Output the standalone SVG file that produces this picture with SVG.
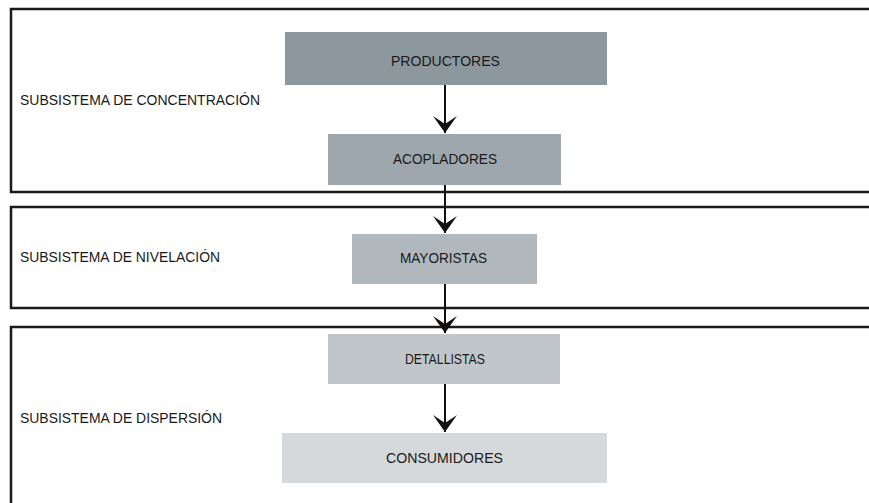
<svg xmlns="http://www.w3.org/2000/svg" width="869" height="503" viewBox="0 0 869 503">
<style>
.frame{fill:none;stroke:#1a1a1a;stroke-width:2.5}
.lbl{font-family:"Liberation Sans",Arial,sans-serif;font-size:14.5px;fill:#1a1a1a}
.ntx{font-family:"Liberation Sans",Arial,sans-serif;font-size:14.5px;fill:#1a1a1a;text-anchor:middle}
.conn{stroke:#111;stroke-width:2;fill:none}
</style>
<defs>
<marker id="ah" markerUnits="userSpaceOnUse" markerWidth="20" markerHeight="26" refX="17" refY="12" orient="auto" overflow="visible">
<path d="M0,0 L17,12 L0,24 L8,12 Z" fill="#111"/>
</marker>
</defs>
<rect width="869" height="503" fill="#fff"/>
<g id="sub-concentracion">
<path class="frame" d="M870,9 H11 V192 H870"/>
<text class="lbl" x="20" y="105" textLength="240" lengthAdjust="spacingAndGlyphs">SUBSISTEMA DE CONCENTRACIÓN</text>
</g>
<g id="sub-nivelacion">
<path class="frame" d="M870,207 H11 V308 H870"/>
<text class="lbl" x="20" y="262" textLength="200" lengthAdjust="spacingAndGlyphs">SUBSISTEMA DE NIVELACIÓN</text>
</g>
<g id="sub-dispersion">
<path class="frame" d="M870,327 H11 V505"/>
<text class="lbl" x="20" y="423" textLength="202" lengthAdjust="spacingAndGlyphs">SUBSISTEMA DE DISPERSIÓN</text>
</g>
<g id="productores">
<rect x="285" y="32" width="322" height="53" fill="#8c979e"/>
<text class="ntx" x="445.5" y="65.5" textLength="109" lengthAdjust="spacingAndGlyphs">PRODUCTORES</text>
</g>
<g id="acopladores">
<rect x="328" y="134" width="233" height="51" fill="#9da7ad"/>
<text class="ntx" x="445" y="164" textLength="104" lengthAdjust="spacingAndGlyphs">ACOPLADORES</text>
</g>
<g id="mayoristas">
<rect x="352" y="234" width="185" height="50" fill="#b1b8bd"/>
<text class="ntx" x="443.5" y="263" textLength="87" lengthAdjust="spacingAndGlyphs">MAYORISTAS</text>
</g>
<g id="detallistas">
<rect x="328" y="334" width="232" height="50" fill="#c1c6ca"/>
<text class="ntx" x="445" y="364" textLength="80" lengthAdjust="spacingAndGlyphs">DETALLISTAS</text>
</g>
<g id="consumidores">
<rect x="282" y="433" width="325" height="50" fill="#d6d9dc"/>
<text class="ntx" x="444.5" y="463" textLength="117" lengthAdjust="spacingAndGlyphs">CONSUMIDORES</text>
</g>
<g id="connectors">
<line class="conn" x1="445" y1="85" x2="445" y2="133" marker-end="url(#ah)"/>
<line class="conn" x1="445" y1="185" x2="445" y2="233" marker-end="url(#ah)"/>
<line class="conn" x1="445" y1="284" x2="445" y2="333" marker-end="url(#ah)"/>
<line class="conn" x1="445" y1="384" x2="445" y2="432" marker-end="url(#ah)"/>
</g>
</svg>
